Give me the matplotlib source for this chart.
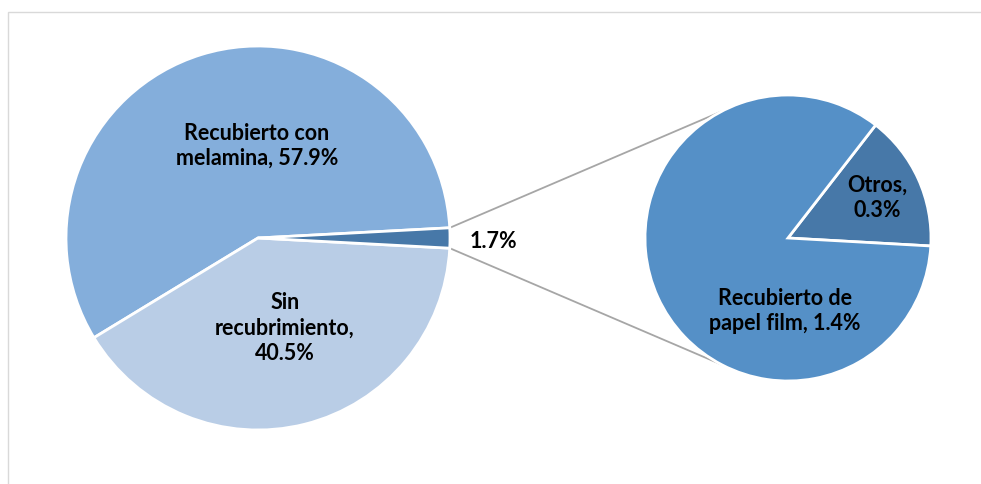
import matplotlib
matplotlib.use("Agg")
import matplotlib.pyplot as plt
from matplotlib.patches import Rectangle
import numpy as np

plt.rcParams["font.family"] = ["Lato", "DejaVu Sans"]

# data (percent of total)
main_names = ["Recubierto con\nmelamina", "Sin\nrecubrimiento,\n", "Otros"]
main_values = [57.9, 40.5]
sub_names = ["Otros,", "Recubierto de\npapel film,"]
sub_values = [0.26, 1.43]
other_total = sum(sub_values)

C_MEL, C_SIN, C_DARK, C_FILM = "#84aedb", "#b9cde6", "#4778a8", "#5590c7"
LINE = "#a6a6a6"

W, H = 981, 484
fig = plt.figure(figsize=(W / 100, H / 100), dpi=100)
ax = fig.add_axes([0, 0, 1, 1])

# left pie
vals = main_values + [other_total]
small_ang = 360 * other_total / sum(vals)
lc, lr = (258, H - 238), 192
ax.pie(vals, colors=[C_MEL, C_SIN, C_DARK], startangle=small_ang / 2, counterclock=True,
       center=lc, radius=lr, wedgeprops=dict(edgecolor="white", linewidth=2))

# right pie
rc, rr = (788, H - 238), 143
ax.pie(sub_values, colors=[C_DARK, C_FILM], startangle=-3.2, counterclock=True,
       center=rc, radius=rr, wedgeprops=dict(edgecolor="white", linewidth=2))

# connector lines
h = np.radians(small_ang / 2)
for sgn, ang in [(1, 118), (-1, 242)]:
    p0 = (lc[0] + lr * np.cos(h), lc[1] + sgn * lr * np.sin(h))
    a = np.radians(ang)
    p1 = (rc[0] + rr * np.cos(a), rc[1] + rr * np.sin(a))
    ax.plot([p0[0], p1[0]], [p0[1], p1[1]], color=LINE, lw=1.3, zorder=0)

fs = 15.5
kw = dict(ha="center", va="center", fontsize=fs, fontweight="bold", color="black", linespacing=1.25)
ax.text(257, H - 146, f"{main_names[0]}, {main_values[0]:.1f}%", **kw)
ax.text(285, H - 328, f"{main_names[1]}{main_values[1]:.1f}%", **kw)
ax.text(493, H - 242, f"{other_total:.1f}%", **kw)
ax.text(877, H - 198, f"{sub_names[0]}\n{sub_values[0]:.1f}%", **kw)
ax.text(785, H - 311, f"{sub_names[1]} {sub_values[1]:.1f}%", **kw)

# chart frame
ax.add_patch(Rectangle((8, -20), 1000, H - 12 + 20, fill=False, edgecolor="#d9d9d9", lw=1, clip_on=False))

ax.set_xlim(0, W)
ax.set_ylim(0, H)
ax.set_aspect("equal")
ax.axis("off")
fig.savefig("out.png", dpi=100)
